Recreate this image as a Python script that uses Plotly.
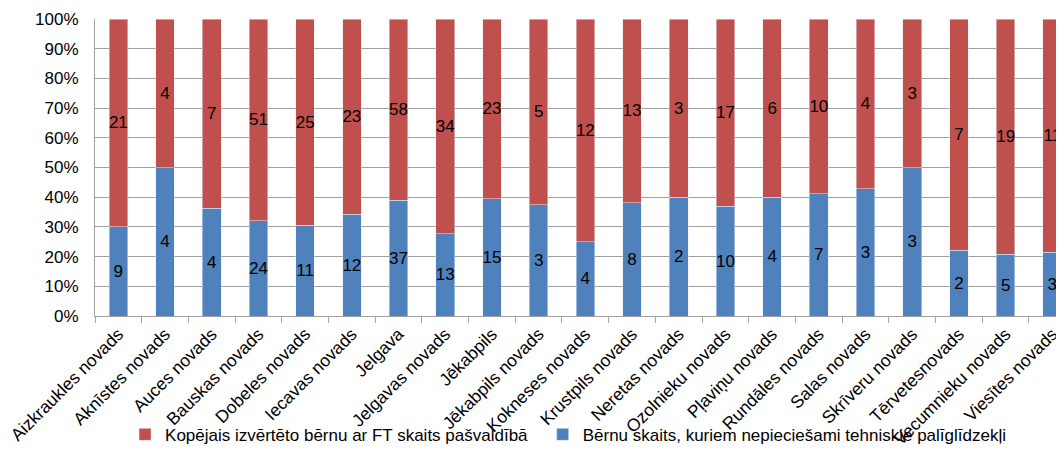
import plotly.graph_objects as go

categories = ["Aizkraukles novads", "Aknīstes novads", "Auces novads", "Bauskas novads",
              "Dobeles novads", "Iecavas novads", "Jelgava", "Jelgavas novads", "Jēkabpils",
              "Jēkabpils novads", "Kokneses novads", "Krustpils novads", "Neretas novads",
              "Ozolnieku novads", "Pļaviņu novads", "Rundāles novads", "Salas novads",
              "Skrīveru novads", "Tērvetesnovads", "Vecumnieku novads", "Viesītes novads"]
blue_vals = [9, 4, 4, 24, 11, 12, 37, 13, 15, 3, 4, 8, 2, 10, 4, 7, 3, 3, 2, 5, 3]
red_vals = [21, 4, 7, 51, 25, 23, 58, 34, 23, 5, 12, 13, 3, 17, 6, 10, 4, 3, 7, 19, 11]
blue_name = "Bērnu skaits, kuriem nepieciešami tehniskie palīglīdzekļi"
red_name = "Kopējais izvērtēto bērnu ar FT skaits pašvaldībā"

FONT = "Liberation Sans"
fig = go.Figure()
fig.add_trace(go.Bar(x=categories, y=blue_vals, name=blue_name, marker_color="#4F81BD",
                     text=blue_vals, textposition="inside", insidetextanchor="middle",
                     textangle=0, constraintext="none", legend="legend2", showlegend=True,
                     textfont=dict(color="black", size=17, family=FONT)))
fig.add_trace(go.Bar(x=categories, y=red_vals, name=red_name, marker_color="#C0504D",
                     text=red_vals, textposition="inside", insidetextanchor="middle",
                     textangle=0, constraintext="none", legend="legend", showlegend=True,
                     textfont=dict(color="black", size=17, family=FONT)))

legend_common = dict(orientation="h", xanchor="left", y=-0.40, yanchor="middle",
                     font=dict(size=17), itemwidth=30, bgcolor="rgba(0,0,0,0)")
fig.update_layout(
    showlegend=True,
    barmode="stack", barnorm="percent", bargap=0.6,
    width=1056, height=444,
    margin=dict(l=87, r=0, t=11, b=136, autoexpand=False),
    plot_bgcolor="white", paper_bgcolor="white",
    font=dict(family=FONT, size=16, color="black"),
    legend=dict(x=0.031, **legend_common),
    legend2=dict(x=0.462, **legend_common),
)
fig.update_yaxes(range=[0, 100], tickvals=list(range(0, 101, 10)),
                 ticktext=[f"{v}%" for v in range(0, 101, 10)],
                 showgrid=True, gridcolor="#A0A0A0", gridwidth=1,
                 showline=True, linecolor="#A0A0A0", ticks="", tickfont=dict(size=17),
                 ticklabelstandoff=12, zeroline=False)
fig.update_xaxes(range=[-0.5, 20.25], tickangle=-45, showline=True, linecolor="#A0A0A0",
                 ticks="outside", tickson="boundaries", ticklen=6, tickcolor="#A0A0A0",
                 tickfont=dict(size=17.5))
fig.write_html("out.html")
